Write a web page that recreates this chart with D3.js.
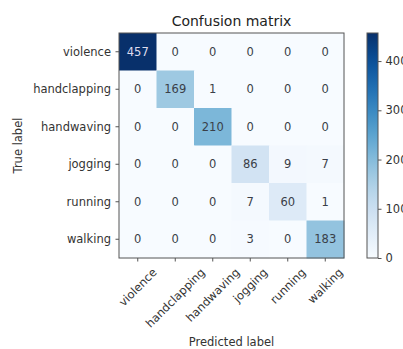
<!DOCTYPE html>
<html>
<head>
<meta charset="utf-8">
<script src="https://cdn.jsdelivr.net/npm/d3@7"></script>
<style>
html,body{margin:0;padding:0;background:#fff;overflow:hidden;}
text{font-family:"DejaVu Sans",sans-serif;}
</style>
</head>
<body>
<svg id="chart" width="403" height="349"></svg>
<script>
const classes = ["violence","handclapping","handwaving","jogging","running","walking"];
const matrix = [
  [457,0,0,0,0,0],
  [0,169,1,0,0,0],
  [0,0,210,0,0,0],
  [0,0,0,86,9,7],
  [0,0,0,7,60,1],
  [0,0,0,3,0,183]
];
const colorbarTicks = [0,100,200,300,400];
const title = "Confusion matrix";
const xTitle = "Predicted label";
const yTitle = "True label";

const svg = d3.select("#chart");
const L = 119, R = 344, T = 33, B = 258;
const fs = 11.5;
const frameColor = "#555";
const vmax = d3.max(matrix.flat());
const color = v => d3.interpolateBlues(v / vmax);

const x = d3.scaleBand().domain(d3.range(classes.length)).range([L, R]);
const y = d3.scaleBand().domain(d3.range(classes.length)).range([T, B]);

const cells = [];
matrix.forEach((row, i) => row.forEach((v, j) => cells.push({i, j, v})));

svg.append("g").selectAll("rect").data(cells).join("rect")
  .attr("x", d => x(d.j)).attr("y", d => y(d.i))
  .attr("width", x.bandwidth() + 0.5).attr("height", y.bandwidth() + 0.5)
  .attr("fill", d => color(d.v));

svg.append("g").selectAll("text").data(cells).join("text")
  .attr("x", d => x(d.j) + x.bandwidth() / 2)
  .attr("y", d => y(d.i) + y.bandwidth() / 2)
  .attr("dy", "0.35em")
  .attr("text-anchor", "middle")
  .attr("font-size", fs)
  .attr("fill", d => d.v > vmax / 2 ? "#dde" : "#3a3f48")
  .text(d => d.v);

svg.append("rect").attr("x", L).attr("y", T).attr("width", R - L).attr("height", B - T)
  .attr("fill", "none").attr("stroke", frameColor).attr("stroke-width", 1);

// y axis
const ya = svg.append("g");
classes.forEach((c, i) => {
  const cy = y(i) + y.bandwidth() / 2;
  ya.append("line").attr("x1", L - 3.5).attr("x2", L).attr("y1", cy).attr("y2", cy).attr("stroke", frameColor);
  ya.append("text").attr("x", L - 8).attr("y", cy).attr("dy", "0.35em")
    .attr("text-anchor", "end").attr("font-size", fs).attr("fill", "#333").text(c);
});

// x axis
const xa = svg.append("g");
classes.forEach((c, j) => {
  const cx = x(j) + x.bandwidth() / 2;
  xa.append("line").attr("x1", cx).attr("x2", cx).attr("y1", B).attr("y2", B + 3.5).attr("stroke", frameColor);
  const t = xa.append("text").attr("text-anchor", "middle").attr("font-size", fs).attr("fill", "#333").text(c);
  const w = t.node().getComputedTextLength();
  const h = fs * 0.8;
  const half = (w + h) / (2 * Math.SQRT2);
  const top = B + 9;
  t.attr("transform", `translate(${cx},${top + half}) rotate(-45)`).attr("dy", "0.35em");
});

svg.append("text").attr("x", (L + R) / 2).attr("y", 26).attr("text-anchor", "middle")
  .attr("font-size", 14).attr("fill", "#222").text(title);
svg.append("text").attr("x", (L + R) / 2).attr("y", 346).attr("text-anchor", "middle")
  .attr("font-size", fs).attr("fill", "#333").text(xTitle);
svg.append("text").attr("transform", `translate(22,${(T + B) / 2}) rotate(-90)`).attr("text-anchor", "middle")
  .attr("font-size", fs).attr("fill", "#333").text(yTitle);

// colorbar
const cbL = 367, cbR = 378;
const defs = svg.append("defs");
const grad = defs.append("linearGradient").attr("id", "cb").attr("x1", 0).attr("y1", 1).attr("x2", 0).attr("y2", 0);
d3.range(0, 1.0001, 0.05).forEach(t => grad.append("stop").attr("offset", t).attr("stop-color", d3.interpolateBlues(t)));
svg.append("rect").attr("x", cbL).attr("y", T).attr("width", cbR - cbL).attr("height", B - T)
  .attr("fill", "url(#cb)").attr("stroke", frameColor);
const cy = d3.scaleLinear().domain([0, vmax]).range([B, T]);
const cba = svg.append("g").attr("transform", `translate(${cbR},0)`)
  .call(d3.axisRight(cy).tickValues(colorbarTicks).tickSize(3.5).tickPadding(4));
cba.select(".domain").remove();
cba.selectAll("line").attr("stroke", frameColor);
cba.selectAll("text").attr("font-size", fs).attr("fill", "#333").attr("font-family", "DejaVu Sans");
</script>
</body>
</html>
